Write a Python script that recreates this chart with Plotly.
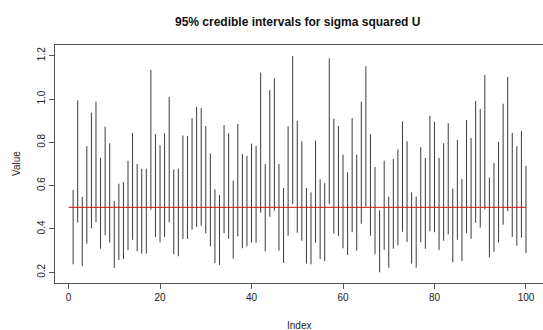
import plotly.graph_objects as go

# 95% credible interval bounds for sigma^2_U, one interval per index
index = list(range(1, 101))
lower = [0.237, 0.429, 0.228, 0.332, 0.403, 0.432, 0.309, 0.372, 0.337, 0.220,
         0.257, 0.261, 0.302, 0.350, 0.297, 0.286, 0.286, 0.489, 0.363, 0.338,
         0.363, 0.431, 0.283, 0.274, 0.354, 0.354, 0.397, 0.410, 0.415, 0.380,
         0.320, 0.242, 0.234, 0.380, 0.355, 0.263, 0.366, 0.311, 0.320, 0.337,
         0.337, 0.475, 0.297, 0.457, 0.484, 0.300, 0.243, 0.369, 0.515, 0.383,
         0.346, 0.240, 0.237, 0.337, 0.261, 0.251, 0.515, 0.378, 0.368, 0.311,
         0.280, 0.385, 0.300, 0.424, 0.503, 0.369, 0.283, 0.200, 0.304, 0.221,
         0.309, 0.325, 0.387, 0.340, 0.240, 0.221, 0.338, 0.309, 0.389, 0.385,
         0.303, 0.346, 0.375, 0.246, 0.350, 0.252, 0.380, 0.355, 0.429, 0.406,
         0.491, 0.269, 0.295, 0.337, 0.420, 0.483, 0.363, 0.323, 0.360, 0.289]
upper = [0.580, 0.994, 0.548, 0.782, 0.937, 0.988, 0.728, 0.872, 0.796, 0.529,
         0.609, 0.616, 0.715, 0.843, 0.700, 0.677, 0.678, 1.134, 0.838, 0.786,
         0.842, 1.009, 0.675, 0.678, 0.832, 0.829, 0.912, 0.965, 0.958, 0.875,
         0.749, 0.583, 0.557, 0.880, 0.842, 0.623, 0.885, 0.746, 0.737, 0.794,
         0.783, 1.122, 0.699, 1.042, 1.096, 0.700, 0.589, 0.874, 1.199, 0.899,
         0.805, 0.589, 0.569, 0.808, 0.629, 0.612, 1.188, 0.909, 0.875, 0.743,
         0.662, 0.912, 0.743, 0.988, 1.151, 0.838, 0.686, 0.486, 0.715, 0.549,
         0.723, 0.768, 0.897, 0.805, 0.569, 0.549, 0.778, 0.728, 0.923, 0.895,
         0.728, 0.796, 0.888, 0.586, 0.811, 0.631, 0.903, 0.820, 0.991, 0.954,
         1.111, 0.637, 0.705, 0.802, 0.978, 1.102, 0.843, 0.782, 0.852, 0.691]

true_value = 0.5
ref_x = [0, 100]

x_ticks = [0, 20, 40, 60, 80, 100]
y_ticks = [0.2, 0.4, 0.6, 0.8, 1.0, 1.2]
y_tick_text = ["0.2", "0.4", "0.6", "0.8", "1.0", "1.2"]

FONT = "Liberation Sans, Arial, sans-serif"
INK = "#222222"
AXIS = "#555555"

# vertical segments, separated by gaps
seg_x, seg_y = [], []
for i, lo, hi in zip(index, lower, upper):
    seg_x += [i, i, None]
    seg_y += [lo, hi, None]

fig = go.Figure()
fig.add_trace(go.Scatter(
    x=seg_x, y=seg_y, mode="lines",
    line=dict(color="#3a3a3a", width=1),
    hoverinfo="skip", showlegend=False,
))
fig.add_trace(go.Scatter(
    x=ref_x, y=[true_value, true_value], mode="lines",
    line=dict(color="#d01010", width=1),
    hoverinfo="skip", showlegend=False,
))

fig.update_layout(
    width=543, height=330,
    margin=dict(l=55, r=0, t=45, b=47),
    paper_bgcolor="white", plot_bgcolor="white",
    font=dict(family=FONT, size=10, color=INK),
    showlegend=False,
    annotations=[
        dict(text="<b>95% credible intervals for sigma squared U</b>",
             xref="paper", yref="paper", x=0.497, y=1, yshift=23,
             xanchor="center", yanchor="middle", showarrow=False,
             font=dict(family=FONT, size=12, color="#111111")),
        dict(text="Index", xref="paper", yref="paper", x=0.5, y=0, yshift=-42,
             xanchor="center", yanchor="middle", showarrow=False,
             font=dict(family=FONT, size=10, color=INK)),
        dict(text="Value", xref="paper", yref="paper", x=0, y=0.5, xshift=-39,
             xanchor="center", yanchor="middle", textangle=-90, showarrow=False,
             font=dict(family=FONT, size=10, color=INK)),
    ],
)

# the plot box's right edge falls just outside the page, so only
# bottom/top (x axis mirrored) and left edges are drawn
fig.update_xaxes(
    range=[-2.96, 103.72], tickvals=x_ticks, ticks="outside", ticklen=5,
    tickcolor=AXIS, tickwidth=1, showline=True, mirror=True,
    linecolor=AXIS, linewidth=1, showgrid=False, zeroline=False,
    tickfont=dict(family=FONT, size=10, color=INK),
)
fig.update_yaxes(
    range=[0.1506, 1.2494], tickvals=y_ticks, ticktext=y_tick_text,
    ticks="outside", ticklen=5, tickangle=-90,
    tickcolor=AXIS, tickwidth=1, showline=True, mirror=False,
    linecolor=AXIS, linewidth=1, showgrid=False, zeroline=False,
    tickfont=dict(family=FONT, size=10, color=INK),
)

fig.write_html("out.html")
